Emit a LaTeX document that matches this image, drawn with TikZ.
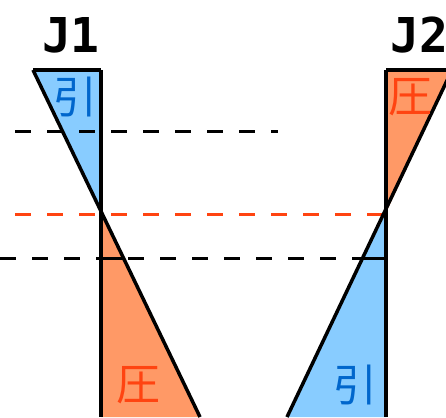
\documentclass[tikz,border=0pt]{standalone}
\usepackage{fontspec}
\newfontfamily\jfont{DejaVu Sans Mono}[BoldFont={DejaVu Sans Mono Bold}]
\newfontfamily\cjk{Noto Sans CJK JP}
\usetikzlibrary{positioning}
\definecolor{tensfill}{HTML}{88CCFF}
\definecolor{compfill}{HTML}{FF9966}
\definecolor{tenstext}{HTML}{0066CC}
\definecolor{comptext}{HTML}{FF4411}

\begin{document}
\begin{tikzpicture}[x=1pt,y=-1pt,line width=3.5pt,
  cut/.style={line width=3pt,dash pattern=on 16pt off 16pt},
  jlabel/.style={inner sep=0pt,font=\jfont\bfseries\fontsize{48}{48}\selectfont},
  kanji/.style={inner sep=0pt,font=\cjk\fontsize{44}{44}\selectfont}]
  \useasboundingbox (0,0) rectangle (446,417);
  \clip (0,0) rectangle (446,417);

  % Points on the two columns
  \coordinate (a1) at (33,70);
  \coordinate (t1) at (101,70);
  \coordinate (m1) at (101,213);
  \coordinate (b1) at (101,417);
  \coordinate (e1) at (200,417);
  \coordinate (t2) at (386,70);
  \coordinate (a2) at (452,70);
  \coordinate (m2) at (386,213);
  \coordinate (b2) at (386,417);
  \coordinate (e2) at (287,417);

  % Stress triangles
  \fill[tensfill] (a1) -- (t1) -- (m1) -- cycle;
  \fill[compfill] (m1) -- (b1) -- (e1) -- cycle;
  \fill[compfill] (t2) -- (a2) -- (m2) -- cycle;
  \fill[tensfill] (m2) -- (b2) -- (e2) -- cycle;

  % Level lines
  \coordinate (c1) at (15,131);
  \coordinate (c2) at (278,131);
  \coordinate (r1) at (15,214);
  \coordinate (r2) at (386,214);
  \coordinate (k1) at (0,258);
  \coordinate (k2) at (386,258);
  \draw[cut] (c1) -- (c2);
  \draw[cut,comptext] (r1) -- (r2);
  \draw[cut] (k1) -- (k2);

  % Section cuts inside the lower triangles
  \coordinate (s1) at (101,258);
  \coordinate (d1) at (123,258);
  \coordinate (d2) at (364,258);
  \coordinate (s2) at (386,258);
  \draw[line width=3pt] (s1) -- (d1);
  \draw[line width=3pt] (d2) -- (s2);

  % Outlines
  \draw (t1) -- (b1);
  \draw (a1) -- (t1);
  \draw (a1) -- (e1);
  \draw (t2) -- (b2);
  \draw (t2) -- (a2);
  \draw (a2) -- (e2);

  % Labels
  \node[jlabel] (j1) at (71,35) {J1};
  \node[jlabel] (j2) at (419,35) {J2};
  \node[kanji,tenstext] (pull1) at (75,97) {引};
  \node[kanji,comptext] (push2) at (410,97) {圧};
  \node[kanji,comptext] (push1) at (138,385) {圧};
  \node[kanji,tenstext] (pull2) at (355,385) {引};
\end{tikzpicture}
\end{document}
